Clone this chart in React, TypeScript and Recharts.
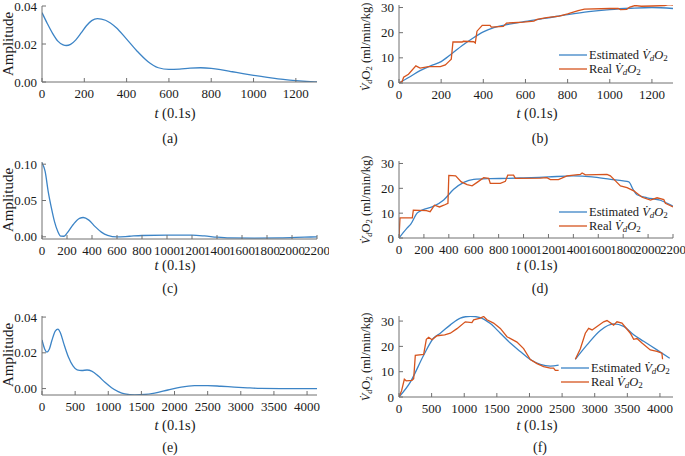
import React from "react";
import { LineChart, Line, XAxis, YAxis } from "recharts";

type Pt = [number, number | null];

// (a) amplitude, 0..1300
const ampA: Pt[] = [
  [0, 0.0365], [25, 0.0308], [50, 0.0256], [75, 0.0215], [100, 0.0195], [115, 0.0192],
  [135, 0.0198], [160, 0.0222], [185, 0.0258], [210, 0.0296], [235, 0.0323], [262, 0.0334],
  [300, 0.0325], [350, 0.0287], [400, 0.0226], [450, 0.0162], [500, 0.0108], [550, 0.0075],
  [600, 0.0066], [650, 0.0068], [700, 0.0073], [750, 0.0075], [800, 0.0072], [850, 0.0064],
  [900, 0.0054], [950, 0.0044], [1000, 0.0035], [1050, 0.0027], [1100, 0.0019], [1150, 0.0012],
  [1200, 0.0007], [1250, 0.0003], [1300, 0.0],
];

// (b) VdO2, 0..1300
const estB: Pt[] = [
  [0, 0], [50, 2.4], [100, 4.9], [150, 6.8], [200, 8.5], [250, 11.6], [300, 14.9], [350, 17.8],
  [400, 20.3], [450, 22], [500, 23], [600, 24.5], [700, 25.8], [800, 27.2], [900, 28.4],
  [1000, 29.2], [1100, 29.7], [1200, 30.0], [1300, 29.6],
];
const realB: Pt[] = [
  [0, 0], [15, 0.6], [22, 2.3], [45, 3.5], [80, 6.8], [100, 5.9], [140, 6.5], [196, 6.5],
  [220, 7.2], [236, 8.5], [248, 9.5], [256, 16.3], [300, 16.3], [305, 16.6], [355, 16.4],
  [362, 15.9], [370, 20.6], [395, 22.9], [432, 22.9], [438, 22.2], [495, 22.5], [510, 23.8],
  [590, 24.2], [640, 24.6], [655, 25.3], [700, 26.0], [760, 26.6], [800, 27.5], [850, 28.8],
  [880, 29.4], [1000, 29.6], [1040, 29.6], [1050, 29.2], [1080, 29.3], [1095, 30.2],
  [1120, 30.8], [1150, 30.5], [1200, 30.6], [1260, 30.8], [1280, 31.2], [1300, 31.0],
];

// (c) amplitude, 0..2200
const ampC: Pt[] = [
  [0, 0.102], [25, 0.09], [50, 0.062], [75, 0.04], [100, 0.021], [125, 0.008], [150, 0.001],
  [175, 0.0008], [200, 0.005], [250, 0.017], [300, 0.0255], [330, 0.0266], [375, 0.023],
  [425, 0.014], [475, 0.0065], [525, 0.002], [600, -0.0002], [700, 0.0008], [800, 0.0018],
  [1000, 0.0022], [1200, 0.0022], [1300, 0.0012], [1400, -0.0005], [1500, -0.0015],
  [1700, -0.0018], [1900, -0.0015], [2100, -0.0005], [2200, 0.0],
];

// (d) VdO2, 0..2200
const estD: Pt[] = [
  [0, 0], [64, 4], [96, 5.7], [145, 10], [185, 11.2], [279, 12.8], [359, 15.3], [439, 19.6],
  [520, 22.4], [600, 23.6], [734, 23.9], [867, 24], [1000, 24.2], [1200, 24.6], [1400, 25],
  [1550, 24.6], [1700, 23.6], [1800, 23], [1845, 22.6], [1880, 19.5], [1911, 17.4],
  [1992, 16.2], [2099, 15.2], [2200, 12.8],
];
const realD: Pt[] = [
  [0, 0], [8, 8.1], [107, 8.1], [115, 11.2], [220, 11.0], [250, 10.6], [285, 13.2],
  [325, 12.5], [360, 13.2], [393, 14], [400, 25.2], [455, 25.0], [500, 22.6], [547, 21.5],
  [587, 21], [630, 22.5], [680, 24.3], [720, 24], [733, 22.0], [814, 22.0], [854, 22.8],
  [873, 25.3], [920, 25.3], [934, 24], [1135, 24.1], [1188, 24.3], [1215, 23.5], [1280, 23.5],
  [1349, 25], [1456, 25.6], [1470, 26.2], [1497, 25.4], [1670, 25.6], [1697, 25], [1738, 23],
  [1778, 21], [1831, 20.3], [1885, 19], [1952, 16.4], [2019, 15.3], [2072, 16.2],
  [2126, 15.5], [2139, 14], [2180, 13], [2200, 12.5],
];

// (e) amplitude, 0..4150
const ampE: Pt[] = [
  [0, 0.0272], [40, 0.0222], [75, 0.0204], [110, 0.022], [150, 0.027], [200, 0.0322],
  [240, 0.0333], [280, 0.031], [330, 0.025], [400, 0.0175], [470, 0.0125], [530, 0.0104],
  [600, 0.0101], [680, 0.0104], [750, 0.0098], [850, 0.007], [950, 0.0035], [1050, 0.0005],
  [1150, -0.0017], [1250, -0.003], [1400, -0.0035], [1550, -0.0033], [1700, -0.0025],
  [1900, -0.0008], [2100, 0.0008], [2300, 0.0016], [2500, 0.0017], [2700, 0.0013],
  [2900, 0.0008], [3100, 0.0004], [3300, 0.0001], [3600, 0.0], [4150, 0.0],
];

// (f) VdO2, 0..4200, two bouts with a gap
const estF: Pt[] = [
  [0, 0], [174, 5.9], [378, 16.5], [531, 23.3], [633, 25.2], [787, 28.5], [940, 31.2],
  [1093, 31.9], [1246, 31.4], [1400, 29], [1553, 25.2], [1706, 21.3], [1859, 18],
  [2013, 14.8], [2166, 12.9], [2319, 12.2], [2447, 12.6], [2570, null],
  [2703, 14.9], [2882, 20.6], [3086, 26.3], [3290, 28.9], [3444, 27.9], [3597, 24.6],
  [3750, 22], [3955, 18.6], [4150, 15.3],
];
const realF: Pt[] = [
  [0, 0], [40, 2.5], [82, 7.0], [110, 6.4], [199, 6.6], [225, 7.2], [238, 12], [250, 16.5],
  [378, 16.8], [419, 22.8], [455, 23.6], [506, 22.6], [583, 24.2], [700, 24.5], [787, 25.2],
  [889, 27], [1016, 29.7], [1118, 29.4], [1144, 30.5], [1246, 31.2], [1297, 31.8],
  [1348, 30.5], [1450, 29.2], [1553, 27.1], [1655, 23.8], [1808, 21.7], [1910, 19.1],
  [2013, 14.8], [2115, 13.2], [2217, 12], [2319, 11.4], [2370, 11.4], [2396, 10.5],
  [2447, 10.5], [2570, null],
  [2703, 14.9], [2780, 19.1], [2856, 25.2], [2907, 27.1], [2960, 26.5], [3137, 29.7],
  [3188, 30.2], [3290, 28.4], [3341, 29.7], [3418, 29.2], [3546, 25.2], [3597, 22.8],
  [3648, 23.1], [3724, 21.3], [3852, 18.6], [3955, 18], [4030, 17.3], [4040, 14.9],
];

const ticks1300 = [0, 200, 400, 600, 800, 1000, 1200];
const ticks2200 = [0, 200, 400, 600, 800, 1000, 1200, 1400, 1600, 1800, 2000, 2200];
const ticks4000 = [0, 500, 1000, 1500, 2000, 2500, 3000, 3500, 4000];
const ampTicks02 = [0, 0.02, 0.04];
const ampTicks05 = [0, 0.05, 0.1];
const vTicks = [0, 10, 20, 30];

const BLUE = "#3C84C6";
const RED = "#D6541E";
const FRAME = "#707070";
const INK = "#1a1a1a";
const FONT = "Liberation Serif, Times New Roman, serif";

const rows = (pts: Pt[]) => pts.map(([t, v]) => ({ t, v }));

type Series = { pts: Pt[]; color: string; smooth: boolean };

type PanelProps = {
  x: number;
  y: number;
  w: number;
  h: number;
  xDomain: [number, number];
  xTicks: number[];
  yDomain: [number, number];
  yTicks: number[];
  yFmt: (v: number) => string;
  series: Series[];
};

function Panel({ x, y, w, h, xDomain, xTicks, yDomain, yTicks, yFmt, series }: PanelProps) {
  const padL = 44;
  const padT = 8;
  const padR = 12;
  const padB = 30;
  const tickFont = { fill: INK, fontSize: 13, fontFamily: FONT };
  return (
    <div style={{ position: "absolute", left: x - padL, top: y - padT, fontFamily: FONT }}>
      <LineChart
        width={w + padL + padR}
        height={h + padT + padB}
        margin={{ top: padT, right: padR, left: 0, bottom: 0 }}
        style={{ fontFamily: FONT }}
      >
        <XAxis
          dataKey="t"
          type="number"
          domain={xDomain}
          ticks={xTicks}
          interval={0}
          allowDataOverflow
          height={padB}
          tickSize={-4}
          tickMargin={11}
          stroke={FRAME}
          tick={tickFont}
        />
        <XAxis
          xAxisId="top"
          orientation="top"
          dataKey="t"
          type="number"
          domain={xDomain}
          ticks={xTicks}
          interval={0}
          allowDataOverflow
          height={0}
          tickSize={-4}
          tick={false}
          stroke={FRAME}
        />
        <YAxis
          type="number"
          domain={yDomain}
          ticks={yTicks}
          interval={0}
          allowDataOverflow
          width={padL}
          tickSize={-4}
          tickMargin={9}
          tickFormatter={yFmt}
          stroke={FRAME}
          tick={tickFont}
        />
        <YAxis
          yAxisId="right"
          orientation="right"
          type="number"
          domain={yDomain}
          ticks={yTicks}
          interval={0}
          allowDataOverflow
          width={0}
          tickSize={-4}
          tick={false}
          stroke={FRAME}
        />
        {series.map((s, i) => (
          <Line
            key={i}
            data={rows(s.pts)}
            dataKey="v"
            type={s.smooth ? "monotone" : "linear"}
            stroke={s.color}
            strokeWidth={1.3}
            dot={false}
            activeDot={false}
            isAnimationActive={false}
          />
        ))}
      </LineChart>
    </div>
  );
}

const f2 = (v: number) => v.toFixed(2);
const f0 = (v: number) => String(v);

function VLabel({ x, y }: { x: number; y: number }) {
  return (
    <text
      transform={`translate(${x},${y}) rotate(-90)`}
      textAnchor="middle"
      dominantBaseline="central"
      fontSize={12.5}
    >
      <tspan fontStyle="italic">{"V\u0307"}</tspan>
      <tspan fontSize={8.5} dy={3} fontStyle="italic">d</tspan>
      <tspan dy={-3}>O</tspan>
      <tspan fontSize={8.5} dy={3}>2</tspan>
      <tspan dy={-3}> (ml/min/kg)</tspan>
    </text>
  );
}

function LegendRow({ x, y, color, name }: { x: number; y: number; color: string; name: string }) {
  return (
    <g>
      <line x1={x} x2={x + 28} y1={y} y2={y} stroke={color} strokeWidth={1.3} />
      <text x={x + 30} y={y} dominantBaseline="central" fontSize={12.5}>
        <tspan>{name} </tspan>
        <tspan fontStyle="italic">{"V\u0307"}</tspan>
        <tspan fontSize={9} dy={3} fontStyle="italic">d</tspan>
        <tspan dy={-3} fontStyle="italic">O</tspan>
        <tspan fontSize={9} dy={3}>2</tspan>
      </text>
    </g>
  );
}

function XLabel({ x, y }: { x: number; y: number }) {
  return (
    <text x={x} y={y} textAnchor="middle" dominantBaseline="central" fontSize={14.5}>
      <tspan fontStyle="italic">t</tspan>
      <tspan> (0.1s)</tspan>
    </text>
  );
}

function Amp({ x, y }: { x: number; y: number }) {
  return (
    <text transform={`translate(${x},${y}) rotate(-90)`} textAnchor="middle" dominantBaseline="central" fontSize={15}>
      Amplitude
    </text>
  );
}

function Cap({ x, y, s }: { x: number; y: number; s: string }) {
  return (
    <text x={x} y={y} textAnchor="middle" dominantBaseline="central" fontSize={14}>
      {s}
    </text>
  );
}

export default function App() {
  return (
    <div style={{ position: "absolute", left: 0, top: 0, width: 685, height: 456, background: "#fff", overflow: "hidden", fontFamily: FONT }}>
      <Panel x={42} y={6} w={275} h={76} xDomain={[0, 1300]} xTicks={ticks1300}
        yDomain={[0, 0.04]} yTicks={ampTicks02} yFmt={f2}
        series={[{ pts: ampA, color: BLUE, smooth: true }]} />
      <Panel x={399} y={5} w={274} h={78} xDomain={[0, 1300]} xTicks={ticks1300}
        yDomain={[0, 31]} yTicks={vTicks} yFmt={f0}
        series={[{ pts: estB, color: BLUE, smooth: true }, { pts: realB, color: RED, smooth: false }]} />
      <Panel x={42} y={162} w={275} h={77} xDomain={[0, 2200]} xTicks={ticks2200}
        yDomain={[-0.003, 0.103]} yTicks={ampTicks05} yFmt={f2}
        series={[{ pts: ampC, color: BLUE, smooth: true }]} />
      <Panel x={399} y={161} w={274} h={77} xDomain={[0, 2200]} xTicks={ticks2200}
        yDomain={[0, 31]} yTicks={vTicks} yFmt={f0}
        series={[{ pts: estD, color: BLUE, smooth: true }, { pts: realD, color: RED, smooth: false }]} />
      <Panel x={42} y={316} w={275} h={79} xDomain={[0, 4150]} xTicks={ticks4000}
        yDomain={[-0.0036, 0.0406]} yTicks={ampTicks02} yFmt={f2}
        series={[{ pts: ampE, color: BLUE, smooth: true }]} />
      <Panel x={399} y={316} w={274} h={81} xDomain={[0, 4200]} xTicks={ticks4000}
        yDomain={[0, 32]} yTicks={vTicks} yFmt={f0}
        series={[{ pts: estF, color: BLUE, smooth: true }, { pts: realF, color: RED, smooth: false }]} />

      <svg width={685} height={456} style={{ position: "absolute", left: 0, top: 0, pointerEvents: "none", fontFamily: FONT }}
        fill={INK}>
        <Amp x={8} y={44} />
        <Amp x={8} y={200} />
        <Amp x={8} y={355} />
        <VLabel x={366} y={47} />
        <VLabel x={366} y={200} />
        <VLabel x={366} y={357} />

        <XLabel x={175} y={113} />
        <XLabel x={537} y={113} />
        <XLabel x={175} y={265} />
        <XLabel x={537} y={265} />
        <XLabel x={175} y={425} />
        <XLabel x={537} y={425} />

        <Cap x={170} y={138} s="(a)" />
        <Cap x={540} y={138} s="(b)" />
        <Cap x={170} y={288} s="(c)" />
        <Cap x={540} y={288} s="(d)" />
        <Cap x={170} y={447} s="(e)" />
        <Cap x={540} y={447} s="(f)" />

        <LegendRow x={559} y={55} color={BLUE} name="Estimated" />
        <LegendRow x={559} y={69} color={RED} name="Real" />
        <LegendRow x={559} y={212} color={BLUE} name="Estimated" />
        <LegendRow x={559} y={226} color={RED} name="Real" />
        <LegendRow x={561} y={368} color={BLUE} name="Estimated" />
        <LegendRow x={561} y={382} color={RED} name="Real" />
      </svg>
    </div>
  );
}
